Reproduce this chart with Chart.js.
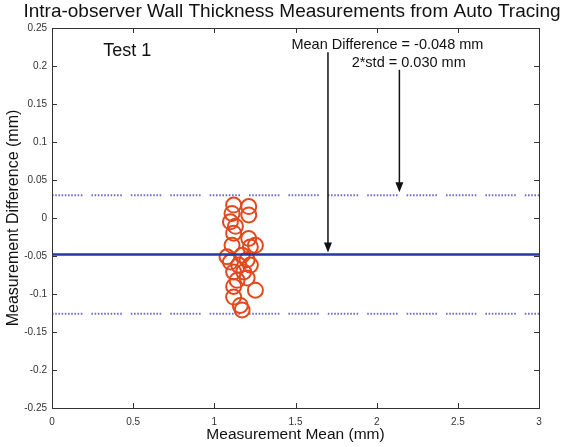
<!DOCTYPE html>
<html>
<head>
<meta charset="utf-8">
<script src="https://cdn.jsdelivr.net/npm/chart.js@4.4.1/dist/chart.umd.min.js"></script>
<style>
  html, body { margin: 0; padding: 0; background: #fff; }
  #wrap { width: 564px; height: 447px; }
</style>
</head>
<body>
<div id="wrap"><canvas id="canvas" width="564" height="447"></canvas></div>
<script>
// measurement mean (mm) and difference (mm) for each tracing pair
var meanValues = [1.119, 1.212, 1.109, 1.212, 1.099, 1.130, 1.119, 1.212, 1.253, 1.109, 1.222, 1.078, 1.171,
  1.202, 1.099, 1.150, 1.222, 1.119, 1.181, 1.140, 1.202, 1.119, 1.253, 1.119, 1.160, 1.171];
var diffValues = [0.017, 0.015, 0.006, 0.004, -0.005, -0.011, -0.020, -0.027, -0.036, -0.036, -0.038, -0.051, -0.049,
  -0.055, -0.058, -0.062, -0.062, -0.071, -0.071, -0.082, -0.079, -0.090, -0.095, -0.104, -0.115, -0.121];

var meanDiff = -0.048;
var twoStd = 0.030;          // upper limit line
var lowerLimit = meanDiff - (twoStd - meanDiff);

var xTicks = [0, 0.5, 1, 1.5, 2, 2.5, 3];
var yTicks = [-0.25, -0.2, -0.15, -0.1, -0.05, 0, 0.05, 0.1, 0.15, 0.2, 0.25];

var FONT = "'Liberation Sans', Arial, Helvetica, sans-serif";

var points = meanValues.map(function (m, i) { return { x: m, y: diffValues[i] }; });
function hline(v) { return [{ x: xTicks[0], y: v }, { x: xTicks[xTicks.length - 1], y: v }]; }
function tickText(v) { return String(parseFloat(v.toFixed(2))); }

// dotted segments: ten small dots then a gap
var dotDash = [];
for (var i = 0; i < 10; i++) dotDash.push(1.6, 1.6);
dotDash[dotDash.length - 1] = 9;

// box with inward ticks on all four sides
var boxPlugin = {
  id: 'box',
  afterDraw: function (chart) {
    var ctx = chart.ctx, a = chart.chartArea;
    var xs = chart.scales.x, ys = chart.scales.y;
    ctx.save();
    ctx.strokeStyle = '#333';
    ctx.lineWidth = 1;
    ctx.strokeRect(a.left + 0.5, a.top + 0.5, a.right - a.left, a.bottom - a.top);
    ctx.beginPath();
    xTicks.forEach(function (t) {
      var px = Math.round(xs.getPixelForValue(t)) + 0.5;
      ctx.moveTo(px, a.bottom); ctx.lineTo(px, a.bottom - 5);
      ctx.moveTo(px, a.top); ctx.lineTo(px, a.top + 5);
    });
    yTicks.forEach(function (t) {
      var py = Math.round(ys.getPixelForValue(t)) + 0.5;
      ctx.moveTo(a.left, py); ctx.lineTo(a.left + 5, py);
      ctx.moveTo(a.right, py); ctx.lineTo(a.right - 5, py);
    });
    ctx.stroke();
    ctx.restore();
  }
};

function arrow(ctx, x, y0, y1) {
  ctx.beginPath();
  ctx.moveTo(x, y0); ctx.lineTo(x, y1 - 8);
  ctx.stroke();
  ctx.beginPath();
  ctx.moveTo(x - 4, y1 - 10); ctx.lineTo(x + 4, y1 - 10); ctx.lineTo(x, y1);
  ctx.closePath();
  ctx.fill();
}

// title, labels and arrows
var notesPlugin = {
  id: 'notes',
  afterDraw: function (chart) {
    var ctx = chart.ctx, xs = chart.scales.x, ys = chart.scales.y;
    ctx.save();
    ctx.fillStyle = '#111';
    ctx.strokeStyle = '#111';
    ctx.textBaseline = 'middle';
    ctx.textAlign = 'center';
    ctx.font = '19px ' + FONT;
    ctx.fillText('Intra-observer Wall Thickness Measurements from Auto Tracing', 292, 12);

    ctx.textAlign = 'left';
    ctx.font = '18px ' + FONT;
    ctx.fillText('Test 1', xs.getPixelForValue(0.315), ys.getPixelForValue(0.220));

    ctx.font = '14.5px ' + FONT;
    ctx.fillText('Mean Difference = ' + meanDiff.toFixed(3) + ' mm', xs.getPixelForValue(1.475), ys.getPixelForValue(0.2276));
    ctx.fillText('2*std = ' + twoStd.toFixed(3) + ' mm', xs.getPixelForValue(1.846), ys.getPixelForValue(0.204));

    ctx.lineWidth = 1.5;
    arrow(ctx, xs.getPixelForValue(1.70), ys.getPixelForValue(0.218), ys.getPixelForValue(meanDiff) - 2);
    arrow(ctx, xs.getPixelForValue(2.14), ys.getPixelForValue(0.195), ys.getPixelForValue(twoStd) - 3);
    ctx.restore();
  }
};

var chart = new Chart(document.getElementById('canvas'), {
  type: 'scatter',
  data: {
    datasets: [
      {
        type: 'line', data: hline(meanDiff), order: 0,
        borderColor: '#2438a6', borderWidth: 2.5, pointRadius: 0
      },
      {
        type: 'line', data: hline(twoStd), order: 2,
        borderColor: '#6f6fc6', borderWidth: 2, borderDash: dotDash, pointRadius: 0
      },
      {
        type: 'line', data: hline(lowerLimit), order: 2,
        borderColor: '#6f6fc6', borderWidth: 2, borderDash: dotDash, pointRadius: 0
      },
      {
        data: points, order: 1,
        pointStyle: 'circle', pointRadius: 7.5,
        borderColor: '#e2491f', borderWidth: 2, backgroundColor: 'rgba(0,0,0,0)'
      }
    ]
  },
  options: {
    responsive: false,
    animation: false,
    layout: { padding: { top: 28, right: 25, left: 0, bottom: 0 } },
    plugins: { legend: { display: false }, tooltip: { enabled: false }, title: { display: false } },
    scales: {
      x: {
        type: 'linear', min: 0, max: 3,
        afterBuildTicks: function (s) { s.ticks = xTicks.map(function (v) { return { value: v }; }); },
        afterFit: function (s) { s.height = 39; },
        grid: { display: false, drawTicks: false },
        border: { display: false },
        ticks: { padding: 8, color: '#333', font: { family: FONT, size: 10 }, maxRotation: 0, callback: tickText },
        title: { display: true, text: 'Measurement Mean (mm)', color: '#111', padding: { top: 0, bottom: 3 }, font: { family: FONT, size: 15.5 } }
      },
      y: {
        type: 'linear', min: -0.25, max: 0.25,
        afterBuildTicks: function (s) { s.ticks = yTicks.map(function (v) { return { value: v }; }); },
        afterFit: function (s) { s.width = 52; },
        grid: { display: false, drawTicks: false },
        border: { display: false },
        ticks: { padding: 5, color: '#333', font: { family: FONT, size: 10 }, callback: tickText },
        title: { display: true, text: 'Measurement Difference (mm)', color: '#111', padding: { top: 4, bottom: 0 }, font: { family: FONT, size: 16 } }
      }
    }
  },
  plugins: [boxPlugin, notesPlugin]
});
</script>
</body>
</html>
